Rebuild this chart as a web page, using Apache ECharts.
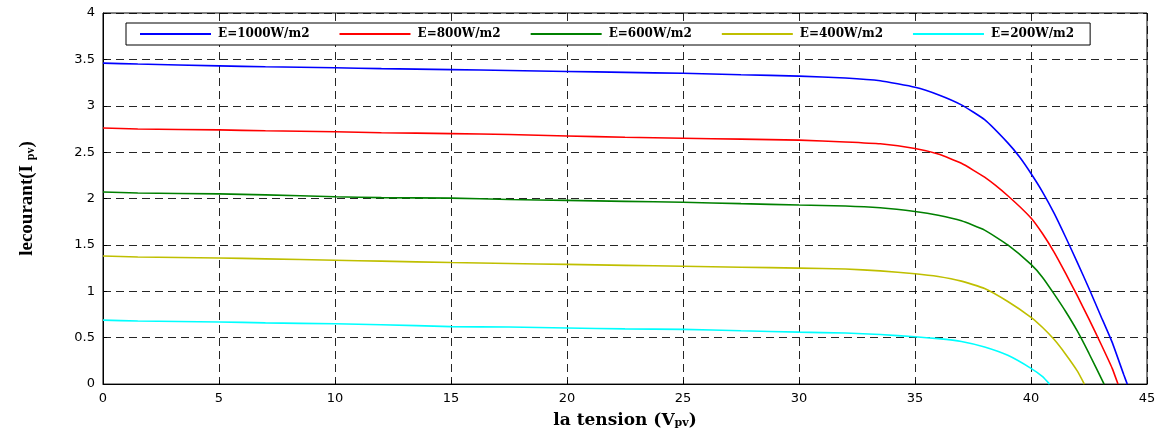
<!DOCTYPE html>
<html>
<head>
<meta charset="utf-8">
<script src="https://cdn.jsdelivr.net/npm/echarts@6/dist/echarts.min.js"></script>
<style>
html,body{margin:0;padding:0;background:#fff;}
#chart{width:1165px;height:434px;}
</style>
</head>
<body>
<div id="chart"></div>
<script>
// Series names (legend labels)
const seriesNames = ['E=1000W/m2', 'E=800W/m2', 'E=600W/m2', 'E=400W/m2', 'E=200W/m2'];

// I-V curves: [voltage (V), current (A)]
const curve1000 = [[0,3.46],[1.5,3.45],[5,3.43],[7,3.42],[10,3.41],[12,3.40],[15,3.39],[17.5,3.38],[20,3.37],[22.5,3.36],[25,3.35],[27.5,3.335],[30,3.32],[32,3.30],[33.5,3.27],[35,3.20],[36,3.12],[37,3.01],[38,2.85],[39,2.60],[39.5,2.45],[40,2.27],[40.5,2.07],[41,1.84],[41.5,1.58],[42,1.31],[42.5,1.03],[43,0.74],[43.5,0.45],[44,0.10],[44.15,0]];
const curve800 = [[0,2.76],[1.5,2.75],[5,2.74],[7,2.73],[10,2.72],[12,2.71],[15,2.70],[17.5,2.69],[20,2.675],[22.5,2.66],[25,2.65],[27.5,2.64],[30,2.63],[32,2.61],[33.5,2.59],[35,2.54],[36,2.48],[37,2.38],[38,2.23],[39,2.03],[40,1.79],[40.5,1.62],[41,1.42],[41.5,1.19],[42,0.95],[42.5,0.70],[43,0.44],[43.5,0.17],[43.75,0]];
const curve600 = [[0,2.07],[1.5,2.06],[5,2.05],[7,2.04],[10,2.02],[12,2.01],[15,2.005],[17.5,1.99],[20,1.98],[22.5,1.97],[25,1.96],[27.5,1.945],[30,1.93],[32,1.92],[33.5,1.90],[35,1.86],[36,1.82],[37,1.76],[38,1.66],[39,1.50],[40,1.29],[40.5,1.15],[41,0.97],[41.5,0.78],[42,0.57],[42.5,0.33],[43.15,0]];
const curve400 = [[0,1.38],[1.5,1.37],[5,1.36],[7,1.35],[10,1.335],[12,1.325],[15,1.31],[17.5,1.30],[20,1.29],[22.5,1.28],[25,1.27],[27.5,1.26],[30,1.25],[32,1.24],[33.5,1.22],[35,1.19],[36,1.16],[37,1.11],[38,1.03],[39,0.89],[40,0.72],[40.5,0.61],[41,0.48],[41.5,0.32],[42,0.14],[42.3,0]];
const curve200 = [[0,0.69],[1.5,0.68],[5,0.67],[7,0.66],[10,0.65],[12,0.64],[15,0.62],[17.5,0.615],[20,0.605],[22.5,0.595],[25,0.59],[27.5,0.575],[30,0.56],[32,0.55],[33.5,0.535],[35,0.51],[36,0.49],[37,0.46],[38,0.40],[39,0.31],[40,0.17],[40.5,0.08],[40.8,0]];

// Axis ranges / ticks
const xMin = 0, xMax = 45, xStep = 5;
const yMin = 0, yMax = 4, yStep = 0.5;

const colors = ['#0000ff', '#ff0000', '#008000', '#bfbf00', '#00ffff'];
const curves = [curve1000, curve800, curve600, curve400, curve200];

const chart = echarts.init(document.getElementById('chart'), null, {renderer: 'canvas'});

const gridDash = {type: [8, 5], color: '#000', width: 1, opacity: 0.85};

const option = {
  animation: false,
  backgroundColor: '#fff',
  grid: {left: 103, right: 18, top: 13, bottom: 46, show: true, borderColor: '#000', borderWidth: 1, backgroundColor: 'transparent'},
  legend: {
    left: 126, top: 23,
    data: seriesNames,
    icon: 'rect',
    itemWidth: 71, itemHeight: 2,
    itemGap: 30,
    backgroundColor: '#fff',
    borderColor: '#000', borderWidth: 1,
    padding: [5, 16, 5, 14],
    textStyle: {fontFamily: 'DejaVu Serif', fontWeight: 'bold', fontSize: 12, color: '#000', padding: [0, 0, 0, 2]}
  },
  xAxis: {
    type: 'value', min: xMin, max: xMax, interval: xStep,
    name: '{a|la tension (V}{b|pv}{a|)}',
    nameLocation: 'middle', nameGap: 20,
    nameTextStyle: {
      rich: {
        a: {fontFamily: 'DejaVu Serif', fontWeight: 'bold', fontSize: 17, color: '#000', lineHeight: 24, verticalAlign: 'bottom'},
        b: {fontFamily: 'DejaVu Serif', fontWeight: 'bold', fontSize: 11, color: '#000', lineHeight: 24, verticalAlign: 'bottom', padding: [8, 0, 0, 0]}
      }
    },
    axisLine: {show: true, lineStyle: {color: '#000', width: 1}},
    axisTick: {show: true, inside: true, length: 4, lineStyle: {color: '#000'}},
    axisLabel: {fontFamily: 'DejaVu Sans', fontSize: 13, color: '#000', margin: 8},
    splitLine: {show: true, lineStyle: gridDash}
  },
  yAxis: {
    type: 'value', min: yMin, max: yMax, interval: yStep,
    name: '{a|lecourant(I }{b|pv}{a|)}',
    nameLocation: 'middle', nameGap: 66, nameRotate: 90,
    nameTextStyle: {
      rich: {
        a: {fontFamily: 'Liberation Serif', fontWeight: 'bold', fontSize: 19, color: '#000', lineHeight: 24, verticalAlign: 'bottom'},
        b: {fontFamily: 'Liberation Serif', fontWeight: 'bold', fontSize: 12, color: '#000', lineHeight: 24, verticalAlign: 'bottom', padding: [10, 0, 0, 0]}
      }
    },
    axisLine: {show: true, lineStyle: {color: '#000', width: 1}},
    axisTick: {show: true, inside: true, length: 4, lineStyle: {color: '#000'}},
    axisLabel: {fontFamily: 'DejaVu Sans', fontSize: 13, color: '#000', margin: 8},
    splitLine: {show: true, lineStyle: gridDash}
  },
  series: seriesNames.map((n, i) => ({
    name: n,
    type: 'line',
    data: curves[i],
    showSymbol: false,
    symbol: 'none',
    smooth: 0.15,
    color: colors[i],
    lineStyle: {width: 1.6, color: colors[i]},
    z: 3
  }))
};

chart.setOption(option);
</script>
</body>
</html>
